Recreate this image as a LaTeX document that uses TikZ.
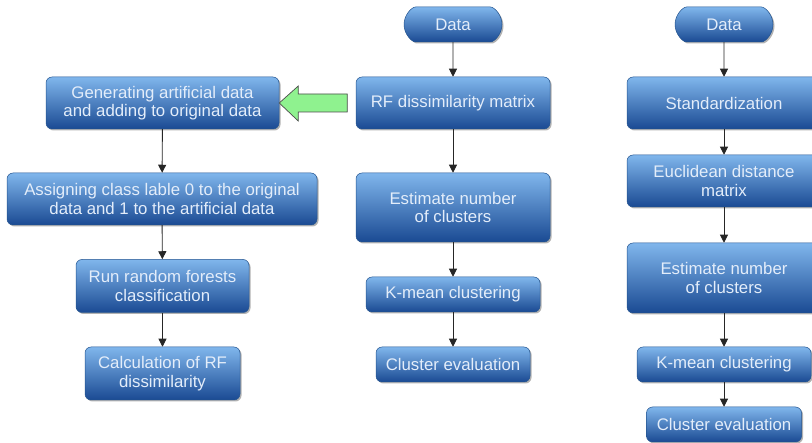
\documentclass[tikz,border=0pt]{standalone}
\usepackage{fontspec}
\setmainfont{Liberation Sans}
\usetikzlibrary{arrows.meta,shapes.misc,shadows}
\definecolor{boxtop}{HTML}{80B6EC}
\definecolor{boxmid}{HTML}{3D80D2}
\definecolor{boxbot}{HTML}{1A4A93}
\definecolor{boxline}{HTML}{24548F}
\definecolor{boxtext}{HTML}{E3EDFA}
\definecolor{greenfill}{HTML}{8FF28F}
\tikzset{
  flowbox/.style={rectangle, rounded corners=6pt, draw=boxline, line width=0.5pt,
    top color=boxtop, middle color=boxmid, bottom color=boxbot,
    drop shadow={shadow xshift=1.5pt, shadow yshift=-1.5pt, opacity=0.3, fill=black},
    text=boxtext, align=center, inner sep=0pt,
    font=\fontsize{16.8}{18.5}\selectfont},
  terminal/.style={flowbox, rounded rectangle},
  flowarrow/.style={draw=black!85, line width=0.9pt, -{Triangle[length=8pt,width=8pt]}},
}
\begin{document}
\begin{tikzpicture}[x=1pt,y=-1pt]
\useasboundingbox (0,0) rectangle (812,443);
% left column
\node[flowbox, minimum width=233pt, minimum height=52pt] (gen) at (162.5,103) {Generating artificial data\\and adding to original data};
\node[flowbox, minimum width=310pt, minimum height=52pt] (assign) at (162,199) {Assigning class lable 0 to the original\\data and 1 to the artificial data};
\node[flowbox, minimum width=173pt, minimum height=53pt] (run) at (162.5,286) {Run random forests\\classification};
\node[flowbox, minimum width=155pt, minimum height=53pt] (calc) at (162.5,373.5) {Calculation of RF\\dissimilarity};
% middle column
\node[terminal, minimum width=98pt, minimum height=35pt] (data1) at (453,24.5) {Data};
\node[flowbox, minimum width=194pt, minimum height=52pt] (rfd) at (453,103) {RF dissimilarity matrix};
\node[flowbox, minimum width=194pt, minimum height=69pt] (est1) at (453,207.5) {Estimate number\\of clusters};
\node[flowbox, minimum width=174pt, minimum height=35pt] (km1) at (453,294.5) {K-mean clustering};
\node[flowbox, minimum width=154pt, minimum height=35pt] (ce1) at (453,364.5) {Cluster evaluation};
% right column
\node[terminal, minimum width=98pt, minimum height=35pt] (data2) at (724,24.5) {Data};
\node[flowbox, minimum width=194pt, minimum height=52pt] (std) at (724,103) {Standardization};
\node[flowbox, minimum width=194pt, minimum height=52pt] (euc) at (724,181) {Euclidean distance\\matrix};
\node[flowbox, minimum width=194pt, minimum height=70pt] (est2) at (724,278) {Estimate number\\of clusters};
\node[flowbox, minimum width=174pt, minimum height=35pt] (km2) at (724,364.5) {K-mean clustering};
\node[flowbox, minimum width=155pt, minimum height=35pt] (ce2) at (724,424.5) {Cluster evaluation};
% connectors
\draw[flowarrow] (gen) -- (assign);
\draw[flowarrow] (assign) -- (run);
\draw[flowarrow] (run) -- (calc);
\draw[flowarrow] (data1) -- (rfd);
\draw[flowarrow] (rfd) -- (est1);
\draw[flowarrow] (est1) -- (km1);
\draw[flowarrow] (km1) -- (ce1);
\draw[flowarrow] (data2) -- (std);
\draw[flowarrow] (std) -- (euc);
\draw[flowarrow] (euc) -- (est2);
\draw[flowarrow] (est2) -- (km2);
\draw[flowarrow] (km2) -- (ce2);
% green block arrow
\draw[fill=greenfill, draw=black!70, line width=0.7pt, line join=miter]
  (gen.east) -- ++(19,-17) -- ++(0,8) -- ++(49,0) -- ++(0,18) -- ++(-49,0) -- ++(0,9) -- cycle;
\end{tikzpicture}
\end{document}
